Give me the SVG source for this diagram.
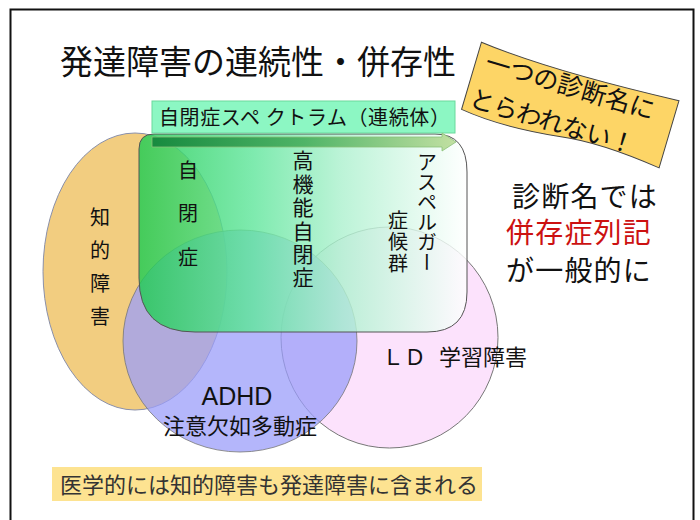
<svg xmlns="http://www.w3.org/2000/svg" width="700" height="520" viewBox="0 0 700 520">
<style>
  .jp { font-family: "Noto Sans CJK JP", "Noto Sans", sans-serif; fill: #111; }
  .vt { font-family: "Noto Sans CJK JP", sans-serif; fill: #111; writing-mode: vertical-rl; }
  .lat { font-family: "Liberation Sans", Arial, sans-serif; fill: #111; }
  .side { font-family: "Noto Sans CJK JP", sans-serif; font-size: 28px; letter-spacing: 1.2px; fill: #111; }
  .thin { stroke-width: 1; }
</style>
<defs>
  <linearGradient id="asdGrad" gradientUnits="userSpaceOnUse" x1="139" y1="0" x2="467" y2="0">
    <stop offset="0" stop-color="#1fcb52"/>
    <stop offset="0.35" stop-color="#62e69d"/>
    <stop offset="0.62" stop-color="#aef1cf"/>
    <stop offset="1" stop-color="#ffffff"/>
  </linearGradient>
  <linearGradient id="arrowGrad" gradientUnits="userSpaceOnUse" x1="152" y1="0" x2="456" y2="0">
    <stop offset="0" stop-color="#178a3f"/>
    <stop offset="0.5" stop-color="#4fb467"/>
    <stop offset="1" stop-color="#c2e0a2"/>
  </linearGradient>
</defs>

<rect id="frame" x="10.5" y="9.5" width="683" height="530" fill="#ffffff" stroke="#111" stroke-width="2"/>

<g id="title">
  <text class="jp" x="60" y="74" font-size="33">発達障害の連続性・併存性</text>
</g>

<g id="callout" transform="translate(570,106) rotate(16.5)">
  <path d="M -103,-36 Q -30,-28 103,-36 L 103,34 Q 40,26 0,32 Q -60,40 -103,34 Z" fill="#fdd566" stroke="#444" stroke-width="1"/>
  <text class="jp" x="-93" y="-10" font-size="25">一つの診断名に</text>
  <text class="jp" x="-98" y="29" font-size="25" letter-spacing="-0.5">とらわれない！</text>
</g>

<g id="intellectual">
  <ellipse cx="135" cy="271.5" rx="92" ry="138.5" fill="#f2cd80" stroke="#8a90aa" class="thin"/>
</g>

<g id="ld">
  <ellipse cx="389.5" cy="337.5" rx="108.5" ry="110.5" fill="#fce2fc" stroke="#777" class="thin"/>
</g>

<g id="adhd">
  <ellipse cx="240" cy="341" rx="117" ry="111" fill="#9b9efa" fill-opacity="0.75" stroke="#777" stroke-opacity="0.8" class="thin"/>
</g>

<g id="asd">
  <path d="M 154,134 L 435,134 Q 467,134 467,172 L 467,292 Q 467,332 427,332 L 195,332 Q 139,332 139,278 L 139,149 Q 139,134 154,134 Z" fill="url(#asdGrad)" fill-opacity="0.82" stroke="#555" stroke-width="1"/>
</g>

<g id="banner">
  <rect x="152" y="101" width="303" height="32" fill="#8cf7c3" stroke="#6ad99c" stroke-width="1"/>
  <text class="jp" x="159" y="125" font-size="20" letter-spacing="0.6">自閉症スペ クトラム（連続体）</text>
</g>

<g id="connectors">
  <path d="M152,137 L442,137 L442,133 L456,142 L442,151 L442,147 L152,147 Z" fill="url(#arrowGrad)" stroke="#8cc07a" stroke-width="0.8"/>
</g>

<g id="labels">
  <text class="vt" x="100" y="207" font-size="20" letter-spacing="13.3">知的障害</text>
  <text class="vt" x="188" y="160" font-size="20" letter-spacing="23.5">自閉症</text>
  <text class="vt" x="303" y="150" font-size="21" letter-spacing="2.4">高機能自閉症</text>
  <text class="vt" x="427" y="152" font-size="20">アスペルガー</text>
  <text class="vt" x="398" y="210" font-size="20" letter-spacing="1.5">症候群</text>
  <text class="lat" x="237" y="405" font-size="25" text-anchor="middle">ADHD</text>
  <text class="jp" x="240" y="434" font-size="22" text-anchor="middle">注意欠如多動症</text>
  <text class="jp" x="382" y="365" font-size="22">ＬＤ<tspan x="439">学習障害</tspan></text>
</g>

<g id="side-text">
  <text class="side" x="512" y="207">診断名では</text>
  <text class="side" x="506" y="243" style="fill:#cc1111">併存症列記</text>
  <text class="side" x="506" y="281">が一般的に</text>
</g>

<g id="note">
  <rect x="52" y="467" width="430" height="34" fill="#fde391"/>
  <text class="jp" x="60" y="493" font-size="22" style="fill:#333">医学的には知的障害も発達障害に含まれる</text>
</g>
</svg>
